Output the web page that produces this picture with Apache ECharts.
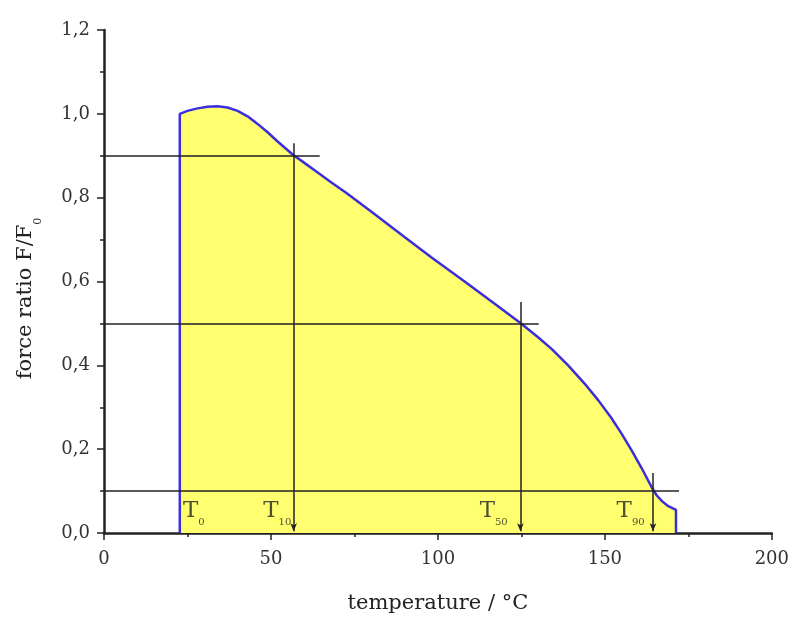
<!DOCTYPE html>
<html>
<head>
<meta charset="utf-8">
<script src="https://cdn.jsdelivr.net/npm/echarts@6/dist/echarts.min.js"></script>
<style>
  html, body { margin: 0; padding: 0; background: #fff; }
  #chart { width: 792px; height: 619px; }
</style>
</head>
<body>
<div id="chart"></div>
<script>
// curve
const curveTemp = [22.7, 22.7, 25, 28, 31, 34, 37, 40, 43, 46, 49, 52, 56.5, 60, 64, 68, 72.6, 80, 89.4, 98, 108.5, 117, 124.7, 130, 134.2, 139, 144.4, 148, 151.9, 155, 158.1, 161, 164.1, 165.5, 167.1, 169, 171.3, 171.3]
const curveRatio = [0, 1.0, 1.007, 1.013, 1.017, 1.018, 1.015, 1.007, 0.994, 0.976, 0.956, 0.934, 0.903, 0.883, 0.86, 0.837, 0.811, 0.767, 0.71, 0.658, 0.597, 0.547, 0.501, 0.467, 0.438, 0.4, 0.352, 0.317, 0.275, 0.237, 0.196, 0.155, 0.108, 0.09, 0.076, 0.064, 0.055, 0]

// reference levels and the temperatures where they are reached
const levelRatio = [0.9, 0.5, 0.1]
const levelEnd = [64.6, 130.2, 172.2]
const markTemp = [56.8, 124.7, 164.4]
const markTop = [0.93, 0.551, 0.143]

// T labels
const labelSub = ['0', '10', '50', '90']
const labelTemp = [26.9, 51.9, 116.7, 157.7]
const labelRatio = [0.046, 0.046, 0.046, 0.046]

const xTicks = [0, 50, 100, 150, 200]
const yTicks = [0, 0.2, 0.4, 0.6, 0.8, 1.0, 1.2]

const serif = 'DejaVu Serif'
const ink = '#222'

const chart = echarts.init(document.getElementById('chart'))

const levelLines = levelRatio.map((v, i) => [
  { coord: [0, v], symbol: 'none' },
  { coord: [levelEnd[i], v], symbol: 'none' }
])
const arrowLines = markTemp.map((t, i) => [
  { coord: [t, markTop[i]], symbol: 'none' },
  { coord: [t, 0.004], symbol: 'arrow', symbolSize: [5, 8] }
])

chart.setOption({
  animation: false,
  backgroundColor: '#fff',
  grid: { left: 104, right: 19, top: 30, bottom: 84, containLabel: false },
  xAxis: {
    type: 'value',
    min: xTicks[0],
    max: xTicks[xTicks.length - 1],
    interval: 50,
    name: 'temperature / °C',
    nameLocation: 'middle',
    nameGap: 60,
    nameTextStyle: { fontFamily: serif, fontSize: 21, color: ink },
    axisLine: { show: true, onZero: false, lineStyle: { color: ink, width: 2.5 } },
    axisTick: { show: true, inside: false, length: 7, lineStyle: { color: ink, width: 1.5 } },
    minorTick: { show: true, splitNumber: 2, length: 4, lineStyle: { color: ink, width: 1.5 } },
    axisLabel: { fontFamily: serif, fontSize: 18, color: '#333', margin: 17 },
    splitLine: { show: false }
  },
  yAxis: {
    type: 'value',
    min: yTicks[0],
    max: yTicks[yTicks.length - 1],
    interval: 0.2,
    name: '{a|force ratio F/F}{s|0}',
    nameLocation: 'middle',
    nameRotate: 90,
    nameGap: 60,
    nameTextStyle: {
      fontFamily: serif,
      color: ink,
      padding: [0, 34, 0, 0],
      rich: {
        a: { fontFamily: serif, fontSize: 21, color: ink, lineHeight: 24, verticalAlign: 'top' },
        s: { fontFamily: serif, fontSize: 11, color: ink, lineHeight: 29, verticalAlign: 'bottom' }
      }
    },
    axisLine: { show: true, onZero: false, lineStyle: { color: ink, width: 2.5 } },
    axisTick: { show: true, inside: false, length: 7, lineStyle: { color: ink, width: 1.5 } },
    minorTick: { show: true, splitNumber: 2, length: 4, lineStyle: { color: ink, width: 1.5 } },
    axisLabel: {
      fontFamily: serif,
      fontSize: 18,
      color: '#333',
      margin: 14,
      formatter: v => v.toFixed(1).replace('.', ',')
    },
    splitLine: { show: false }
  },
  series: [
    {
      type: 'line',
      data: curveTemp.map((t, i) => [t, curveRatio[i]]),
      showSymbol: false,
      symbol: 'none',
      lineStyle: { color: '#3b2ee0', width: 2.5 },
      areaStyle: { color: '#ffff70', opacity: 1, origin: 'start' },
      silent: true,
      z: 2
    },
    {
      type: 'line',
      data: [],
      silent: true,
      z: 3,
      markLine: {
        silent: true,
        animation: false,
        label: { show: false },
        lineStyle: { color: ink, width: 1.5, type: 'solid' },
        emphasis: { disabled: true },
        data: levelLines.concat(arrowLines)
      }
    },
    {
      type: 'scatter',
      data: labelTemp.map((t, i) => [t, labelRatio[i], labelSub[i]]),
      symbolSize: 0,
      silent: true,
      z: 4,
      label: {
        show: true,
        position: 'inside',
        formatter: p => '{t|T}{s|' + p.value[2] + '}',
        rich: {
          t: { fontFamily: serif, fontSize: 23, color: ink, lineHeight: 25, verticalAlign: 'top' },
          s: { fontFamily: serif, fontSize: 10, color: ink, lineHeight: 28, verticalAlign: 'bottom' }
        }
      }
    }
  ]
})
</script>
</body>
</html>
